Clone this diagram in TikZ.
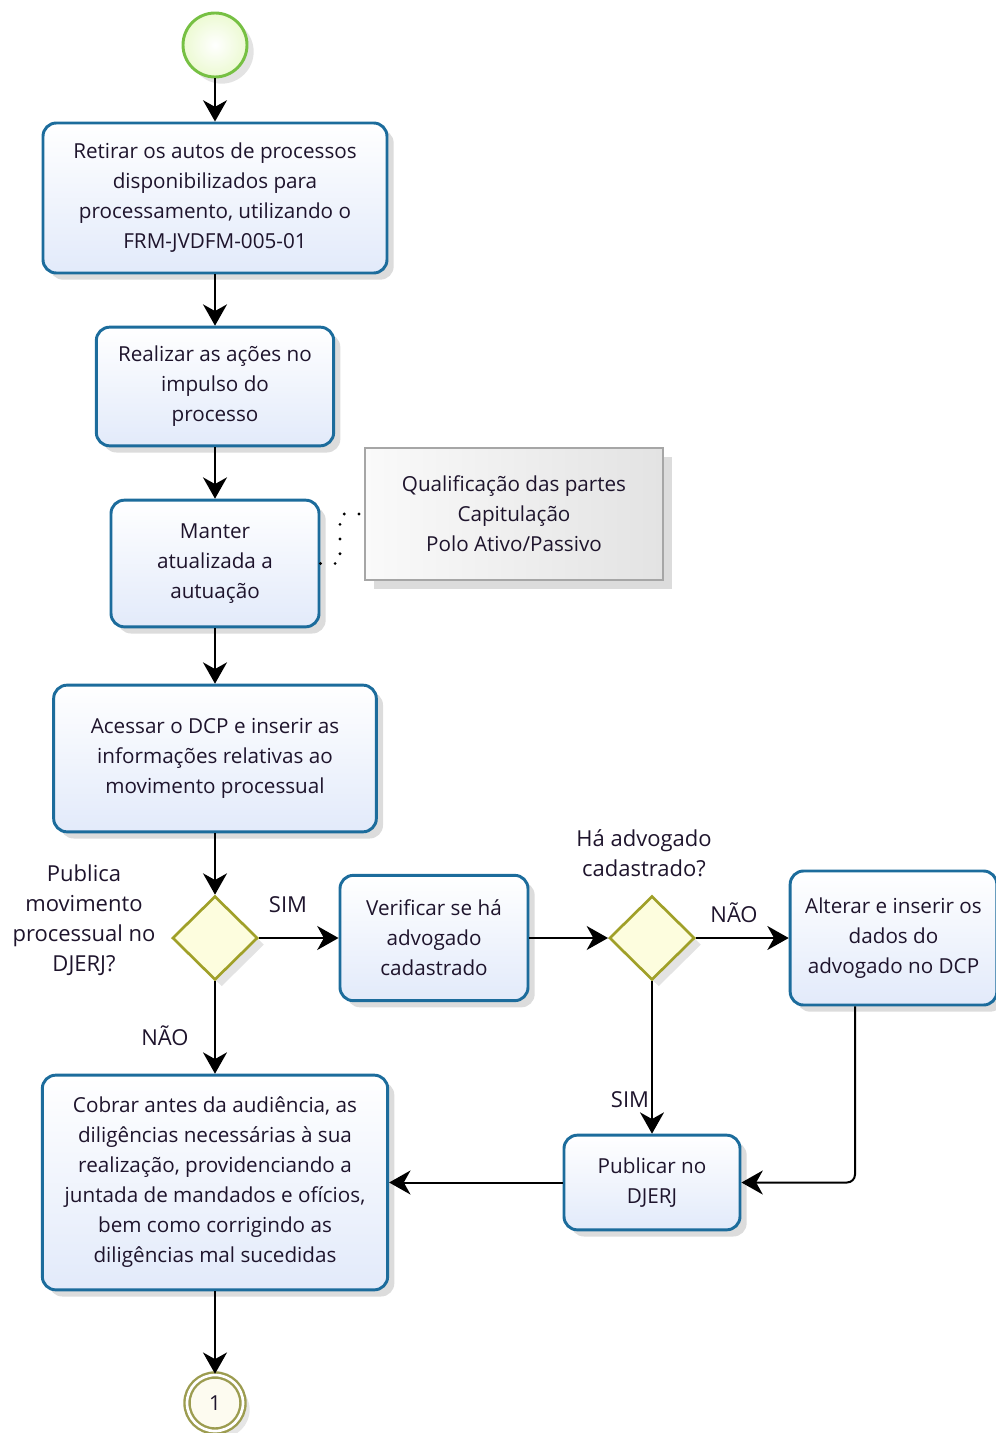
\documentclass[tikz,border=0pt]{standalone}
\usepackage{fontspec}
\setmainfont{Open Sans}
\usetikzlibrary{shapes.geometric,arrows.meta,shadows,calc}
\definecolor{taskline}{RGB}{28,108,156}
\definecolor{tasktop}{RGB}{255,255,255}
\definecolor{taskbot}{RGB}{226,234,250}
\definecolor{gateline}{RGB}{160,160,40}
\definecolor{gatefill}{RGB}{253,253,222}
\definecolor{startline}{RGB}{118,192,67}
\definecolor{startfill}{RGB}{236,250,210}
\definecolor{endline}{RGB}{156,156,80}
\definecolor{endfill}{RGB}{253,251,240}
\definecolor{txt}{RGB}{30,20,44}
\tikzset{
  base/.style={font=\fontsize{15.5pt}{22.5pt}\selectfont, text=txt, align=center, inner sep=0pt},
  task/.style={base, rectangle, rounded corners=10pt, draw=taskline, line width=2.2pt,
    top color=tasktop, bottom color=taskbot,
    drop shadow={opacity=0.28, shadow xshift=5pt, shadow yshift=-5pt}},
  gate/.style={diamond, draw=gateline, line width=2pt, fill=gatefill, inner sep=0pt,
    minimum width=64pt, minimum height=63pt,
    drop shadow={opacity=0.22, shadow xshift=5pt, shadow yshift=-5pt}},
  note/.style={base, rectangle, draw=gray!70, line width=0.8pt,
    left color=gray!4, right color=gray!22,
    drop shadow={opacity=0.28, shadow xshift=7pt, shadow yshift=-7pt}},
  lbl/.style={base, font=\fontsize{16.5pt}{22.5pt}\selectfont},
  flow/.style={line width=1.5pt, black, -{Stealth[length=16pt,width=18pt,inset=5pt]}},
}
\begin{document}
\begin{tikzpicture}[x=0.75pt,y=-0.75pt]
\useasboundingbox (0,0) rectangle (995,1433);

% events
\node[circle, draw=startline, line width=2.2pt, inner color=white, outer color=startfill,
  minimum size=48pt, inner sep=0pt,
  drop shadow={opacity=0.22, shadow xshift=5pt, shadow yshift=-5pt}] (start) at (215,45) {};
\node[base, circle, draw=endline, line width=1.8pt, double=white, double distance=2pt,
  fill=endfill, minimum size=42pt,
  drop shadow={opacity=0.2, shadow xshift=5pt, shadow yshift=-5pt}] (end) at (215,1403) {1};

% tasks
\node[task, minimum width=258pt, minimum height=112.5pt] (t1) at (215,198)
  {Retirar os autos de processos\\disponibilizados para\\processamento, utilizando o\\FRM-JVDFM-005-01};
\node[task, minimum width=178pt, minimum height=89pt] (t2) at (215,386.5)
  {Realizar as ações no\\impulso do\\processo};
\node[task, minimum width=156pt, minimum height=95pt] (t3) at (215,563.5)
  {Manter\\atualizada a\\autuação};
\node[note, minimum width=223.5pt, minimum height=99pt] (ann) at (514,514)
  {Qualificação das partes\\Capitulação\\Polo Ativo/Passivo};
\node[task, minimum width=242pt, minimum height=110pt] (t4) at (215,758.5)
  {Acessar o DCP e inserir as\\informações relativas ao\\movimento processual};
\node[gate] (g1) at (215,938) {};
\node[task, minimum width=141pt, minimum height=94pt] (t5) at (434,938)
  {Verificar se há\\advogado\\cadastrado};
\node[gate] (g2) at (652,938) {};
\node[task, minimum width=155pt, minimum height=100.5pt] (t6) at (893.5,938)
  {Alterar e inserir os\\dados do\\advogado no DCP};
\node[task, minimum width=259pt, minimum height=161pt] (t7) at (215,1182.5)
  {Cobrar antes da audiência, as\\diligências necessárias à sua\\realização, providenciando a\\juntada de mandados e ofícios,\\bem como corrigindo as\\diligências mal sucedidas};
\node[task, minimum width=132pt, minimum height=71pt] (t8) at (652,1182.5)
  {Publicar no\\DJERJ};

% gateway and flow labels
\node[lbl] (q1) at (84,920) {Publica\\movimento\\processual no\\DJERJ?};
\node[lbl] (q2) at (644,853) {Há advogado\\cadastrado?};
\node[lbl] (s1) at (288,905) {SIM};
\node[lbl] (n1) at (165,1036) {NÃO};
\node[lbl] (n2) at (734,913) {NÃO};
\node[lbl] (s2) at (630,1100) {SIM};

% association to the annotation
\coordinate (ak) at (340,0);
\draw[line width=2.4pt, line cap=round, dash pattern=on 0pt off 11pt]
  (t3.east) -| (ak |- ann.west) -- (ann.west);

% sequence flows
\draw[flow] (start) -- (t1);
\draw[flow] (t1) -- (t2);
\draw[flow] (t2) -- (t3);
\draw[flow] (t3) -- (t4);
\draw[flow] (t4) -- (g1);
\draw[flow] (g1.east) -- (t5.west);
\draw[flow] (t5.east) -- (g2.west);
\draw[flow] (g2.east) -- (t6.west);
\draw[flow] (g1.south) -- (t7.north);
\draw[flow] (g2.south) -- (t8.north);
\coordinate (drop) at (855,0);
\draw[flow, rounded corners=6pt] (t6.south -| drop) |- (t8.east);
\draw[flow] (t8.west) -- (t7.east |- t8.west);
\draw[flow] (t7.south) -- (end.north);
\end{tikzpicture}
\end{document}
